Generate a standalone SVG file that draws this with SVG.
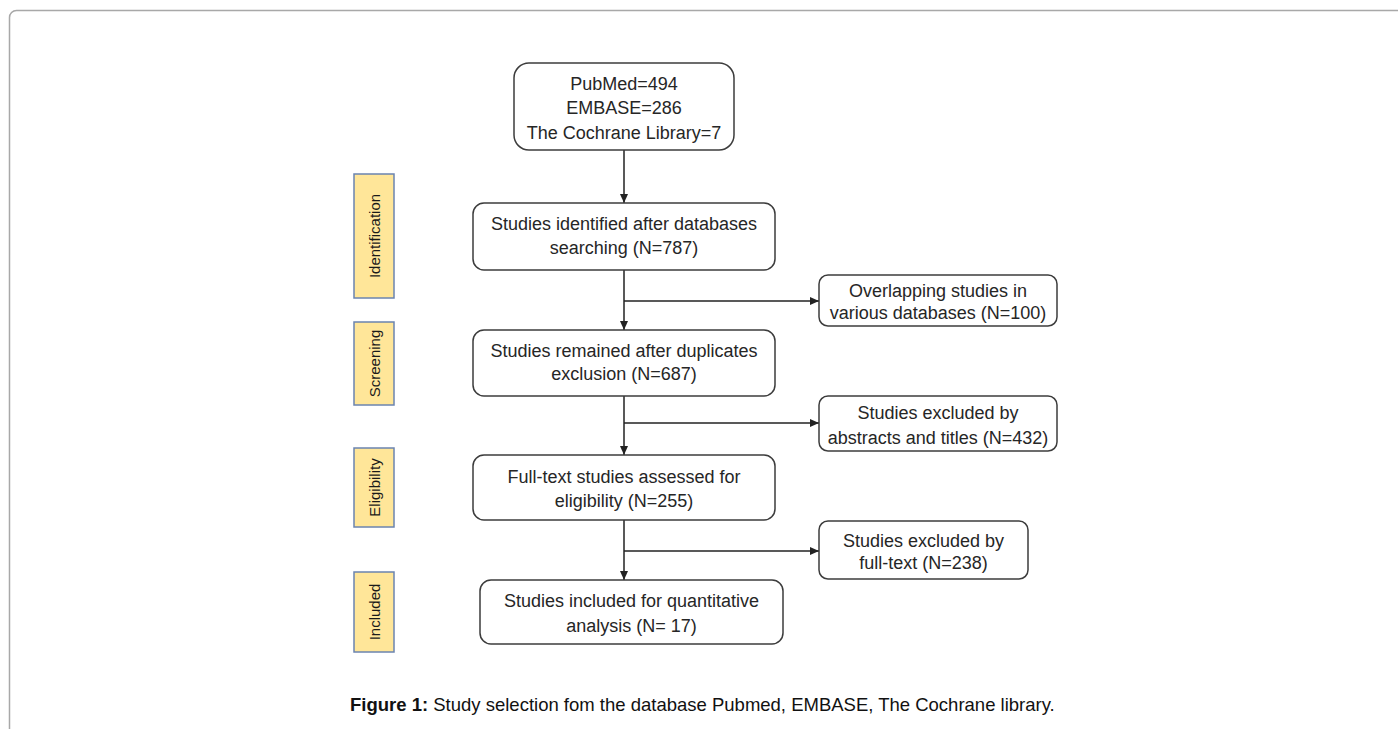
<svg xmlns="http://www.w3.org/2000/svg" width="1398" height="729" viewBox="0 0 1398 729">
<defs>
<marker id="ah" markerWidth="10" markerHeight="8" refX="9" refY="4" orient="auto" markerUnits="userSpaceOnUse">
<path d="M0,0 L9,4 L0,8 Z" fill="#222"/>
</marker>
<style>
.box{fill:#fff;stroke:#3c3c3c;stroke-width:1.5}
.lab{fill:#FFE699;stroke:#6B84B0;stroke-width:1.5}
.t{font-family:"Liberation Sans",Arial,sans-serif;font-size:18px;fill:#262626;text-anchor:middle}
.lt{font-family:"Liberation Sans",Arial,sans-serif;font-size:15px;fill:#1a1a1a;text-anchor:middle}
.c{stroke:#222;stroke-width:1.5;fill:none}
.cap{font-family:"Liberation Sans",Arial,sans-serif;font-size:18.5px;fill:#111}
</style>
</defs>
<rect width="1398" height="729" fill="#fff"/>
<rect x="9.5" y="10.5" width="1420" height="760" rx="7" fill="none" stroke="#a8a8a8" stroke-width="1.5"/>

<g id="connectors">
<line class="c" x1="624" y1="150" x2="624" y2="203" marker-end="url(#ah)"/>
<line class="c" x1="624" y1="270" x2="624" y2="330" marker-end="url(#ah)"/>
<line class="c" x1="624" y1="301" x2="819" y2="301" marker-end="url(#ah)"/>
<line class="c" x1="624" y1="396" x2="624" y2="455" marker-end="url(#ah)"/>
<line class="c" x1="624" y1="423" x2="819" y2="423" marker-end="url(#ah)"/>
<line class="c" x1="624" y1="520" x2="624" y2="580" marker-end="url(#ah)"/>
<line class="c" x1="624" y1="551" x2="819" y2="551" marker-end="url(#ah)"/>
</g>

<g id="label-identification">
<rect class="lab" x="354" y="174" width="40" height="124"/>
<text class="lt" transform="translate(379.5,236) rotate(-90)">Identification</text>
</g>
<g id="label-screening">
<rect class="lab" x="354" y="322" width="40" height="83"/>
<text class="lt" transform="translate(379.5,363.5) rotate(-90)">Screening</text>
</g>
<g id="label-eligibility">
<rect class="lab" x="354" y="448" width="40" height="79"/>
<text class="lt" transform="translate(379.5,487.5) rotate(-90)">Eligibility</text>
</g>
<g id="label-included">
<rect class="lab" x="354" y="572" width="40" height="80"/>
<text class="lt" transform="translate(379.5,612) rotate(-90)">Included</text>
</g>

<g id="node-sources">
<rect class="box" x="514" y="63" width="220" height="87" rx="15"/>
<text class="t" x="624" y="89.5">PubMed=494</text>
<text class="t" x="624" y="114">EMBASE=286</text>
<text class="t" x="624" y="138.5">The Cochrane Library=7</text>
</g>
<g id="node-identified">
<rect class="box" x="473" y="203" width="302" height="67" rx="11"/>
<text class="t" x="624" y="229.5">Studies identified after databases</text>
<text class="t" x="624" y="253.5">searching (N=787)</text>
</g>
<g id="node-overlap">
<rect class="box" x="819" y="275" width="238" height="51" rx="9"/>
<text class="t" x="938" y="297">Overlapping studies in</text>
<text class="t" x="938" y="319">various databases (N=100)</text>
</g>
<g id="node-remained">
<rect class="box" x="473" y="330" width="302" height="66" rx="11"/>
<text class="t" x="624" y="356.5">Studies remained after duplicates</text>
<text class="t" x="624" y="379.5">exclusion (N=687)</text>
</g>
<g id="node-abstracts">
<rect class="box" x="819" y="396" width="238" height="55" rx="9"/>
<text class="t" x="938" y="419">Studies excluded by</text>
<text class="t" x="938" y="444">abstracts and titles (N=432)</text>
</g>
<g id="node-fulltext-assessed">
<rect class="box" x="473" y="455" width="302" height="65" rx="11"/>
<text class="t" x="624" y="482.5">Full-text studies assessed for</text>
<text class="t" x="624" y="506.5">eligibility (N=255)</text>
</g>
<g id="node-fulltext-excluded">
<rect class="box" x="819" y="521" width="209" height="58" rx="9"/>
<text class="t" x="923.5" y="547">Studies excluded by</text>
<text class="t" x="923.5" y="569">full-text (N=238)</text>
</g>
<g id="node-included">
<rect class="box" x="480" y="580" width="303" height="64" rx="11"/>
<text class="t" x="631.5" y="606.5">Studies included for quantitative</text>
<text class="t" x="631.5" y="631.5">analysis (N= 17)</text>
</g>

<text class="cap" x="350" y="711"><tspan font-weight="bold">Figure 1:</tspan> Study selection fom the database Pubmed, EMBASE, The Cochrane library.</text>
</svg>
